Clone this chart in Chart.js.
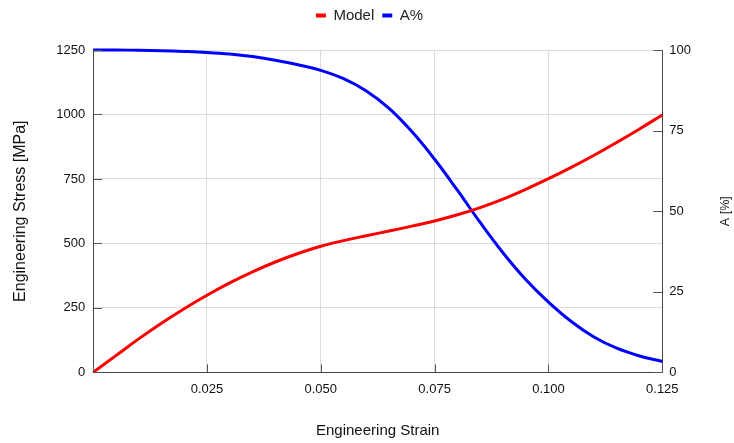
<!DOCTYPE html>
<html>
<head>
<meta charset="utf-8">
<script src="https://cdn.jsdelivr.net/npm/chart.js@4"></script>
<style>
  html, body { margin: 0; padding: 0; background: #fff; }
  #wrap { width: 734px; height: 443px; }
</style>
</head>
<body>
<div id="wrap"><canvas id="myChart"></canvas></div>
<script>
const strain = [0, 0.005, 0.01, 0.015, 0.02, 0.025, 0.03, 0.035, 0.04, 0.045, 0.05, 0.055, 0.06,
  0.065, 0.07, 0.075, 0.08, 0.085, 0.09, 0.095, 0.1, 0.105, 0.11, 0.115, 0.12, 0.125];
const modelStress = [0, 65, 130, 191, 247, 299, 347, 390, 428, 461, 489, 511, 530,
  548, 567, 587, 611, 639, 672, 710, 751, 795, 842, 892, 944, 998];
const aPercent = [100, 100, 99.9, 99.75, 99.55, 99.25, 98.75, 97.95, 96.85, 95.45, 93.7, 91.1, 87.3,
  81.9, 74.7, 66.1, 56.5, 46.5, 37.1, 28.8, 21.8, 15.8, 11.0, 7.5, 5.1, 3.4];
const seriesNames = ["Model", "A%"];
const rightTitle = "A [%]";

const font = "Arial, 'Liberation Sans', sans-serif";

// little inward tick marks + right title drawn bottom-to-top like the left one
const extras = {
  id: "extras",
  beforeInit(chart) {
    const fit = chart.legend.fit;
    chart.legend.fit = function () {
      fit.bind(chart.legend)();
      this.height += 17;
    };
  },
  afterLayout(chart) {
    // the legend sits over the middle of the plot, not the canvas
    chart.legend.left += 15;
    chart.legend.right += 15;
  },
  afterDraw(chart) {
    const c = chart.ctx;
    const area = chart.chartArea;
    c.save();
    c.strokeStyle = "#555";
    c.lineWidth = 1;
    const x = chart.scales.x;
    x.ticks.forEach(function (t) {
      const px = Math.round(x.getPixelForValue(t.value)) + 0.5;
      c.beginPath();
      c.moveTo(px, area.bottom);
      c.lineTo(px, area.bottom - 8);
      c.stroke();
    });
    const yl = chart.scales.y;
    yl.ticks.forEach(function (t) {
      const py = Math.round(yl.getPixelForValue(t.value)) + 0.5;
      c.beginPath();
      c.moveTo(area.left, py);
      c.lineTo(area.left + 9, py);
      c.stroke();
    });
    const yr = chart.scales.y1;
    yr.ticks.forEach(function (t) {
      const py = Math.round(yr.getPixelForValue(t.value)) + 0.5;
      c.beginPath();
      c.moveTo(area.right, py);
      c.lineTo(area.right - 9, py);
      c.stroke();
    });
    c.translate(726, (area.top + area.bottom) / 2);
    c.rotate(-Math.PI / 2);
    c.fillStyle = "#111";
    c.font = "12.5px " + font;
    c.textAlign = "center";
    c.textBaseline = "middle";
    c.fillText(rightTitle, 0, 0);
    c.restore();
  },
};

const ctx = document.getElementById("myChart");

var chart = new Chart(ctx, {
  type: "line",
  data: {
    datasets: [
      {
        label: seriesNames[0],
        data: strain.map((s, i) => ({ x: s, y: modelStress[i] })),
        borderColor: "#ff0000",
        backgroundColor: "#ff0000",
        borderWidth: 3,
        pointRadius: 0,
        tension: 0.4,
        clip: 3,
        yAxisID: "y",
      },
      {
        label: seriesNames[1],
        data: strain.map((s, i) => ({ x: s, y: aPercent[i] })),
        borderColor: "#0000ff",
        backgroundColor: "#0000ff",
        borderWidth: 3,
        pointRadius: 0,
        tension: 0.4,
        clip: 3,
        yAxisID: "y1",
      },
    ],
  },
  plugins: [extras],
  options: {
    responsive: true,
    maintainAspectRatio: false,
    animation: false,
    layout: { padding: { left: 11, right: 36, top: 0, bottom: 3 } },
    plugins: {
      legend: {
        position: "top",
        labels: {
          boxWidth: 10,
          boxHeight: 4,
          padding: 8,
          color: "#222",
          font: { family: font, size: 15 },
          generateLabels(chart) {
            const items = Chart.defaults.plugins.legend.labels.generateLabels(chart);
            items.forEach((it) => (it.lineWidth = 0));
            return items;
          },
        },
      },
      tooltip: { enabled: false },
    },
    scales: {
      x: {
        type: "linear",
        min: 0,
        max: 0.125,
        ticks: {
          stepSize: 0.025,
          color: "#111",
          padding: 9,
          font: { family: font, size: 13 },
          callback: (v) => (v === 0 ? "" : v.toFixed(3)),
        },
        grid: { color: "#dcdcdc", drawTicks: false },
        border: { color: "#444", width: 1 },
        title: {
          display: true,
          text: "Engineering Strain",
          color: "#111",
          font: { family: font, size: 15 },
          padding: { top: 16, bottom: 0 },
        },
      },
      y: {
        position: "left",
        min: 0,
        max: 1250,
        ticks: {
          stepSize: 250,
          color: "#111",
          padding: 8,
          font: { family: font, size: 13 },
          callback: (v) => String(v),
        },
        grid: { color: "#dcdcdc", drawTicks: false },
        border: { color: "#444", width: 1 },
        title: {
          display: true,
          text: "Engineering Stress [MPa]",
          color: "#111",
          font: { family: font, size: 16 },
          padding: { top: 0, bottom: 18 },
        },
      },
      y1: {
        position: "right",
        min: 0,
        max: 100,
        ticks: {
          stepSize: 25,
          color: "#111",
          padding: 7,
          font: { family: font, size: 13 },
        },
        grid: { drawOnChartArea: false, drawTicks: false },
        border: { color: "#444", width: 1 },
      },
    },
  },
});
</script>
</body>
</html>
